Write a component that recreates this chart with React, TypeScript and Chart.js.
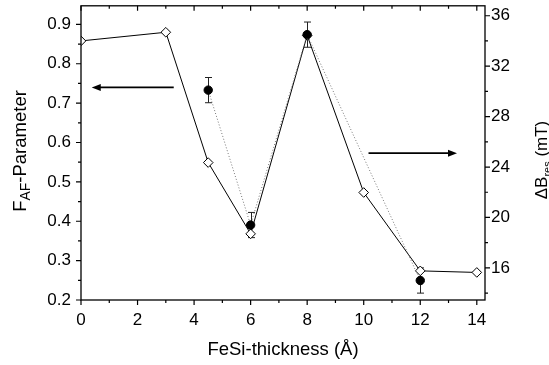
import React, { useEffect, useRef } from "react";
import { Chart, registerables } from "chart.js";

Chart.register(...registerables);

// ---- data ----
const thickness = [0, 3, 4.5, 6, 8, 10, 12, 14];
const fafParameter = [0.858, 0.88, 0.549, 0.368, 0.872, 0.473, 0.274, 0.27];

const resThickness = [4.5, 6, 8, 12];
const deltaBres = [30.1, 19.4, 34.5, 15.0];
const deltaBresErr = [1.0, 1.0, 1.0, 1.0];

const xTicks = [0, 2, 4, 6, 8, 10, 12, 14];
const xMinorTicks = [1, 3, 5, 7, 9, 11, 13];
const leftTicks = [0.2, 0.3, 0.4, 0.5, 0.6, 0.7, 0.8, 0.9];
const leftMinorTicks = [0.25, 0.35, 0.45, 0.55, 0.65, 0.75, 0.85];
const rightTicks = [16, 20, 24, 28, 32, 36];
const rightMinorTicks = [14, 18, 22, 26, 30, 34];

// arrows in (thickness, F_AF) data space
const arrowFrom = [
  [3.28, 0.74],
  [10.17, 0.573],
];
const arrowTo = [
  [0.38, 0.74],
  [13.3, 0.573],
];

const FONT = "'Liberation Sans', Arial, sans-serif";

type Part = { text: string; size: number; dy: number };

function drawRich(ctx: CanvasRenderingContext2D, parts: Part[], x: number, y: number, rotate: boolean) {
  let total = 0;
  for (const p of parts) {
    ctx.font = `${p.size}px ${FONT}`;
    total += ctx.measureText(p.text).width;
  }
  ctx.save();
  ctx.translate(x, y);
  if (rotate) ctx.rotate(-Math.PI / 2);
  ctx.textAlign = "left";
  ctx.textBaseline = "alphabetic";
  ctx.fillStyle = "#000";
  let cx = -total / 2;
  for (const p of parts) {
    ctx.font = `${p.size}px ${FONT}`;
    ctx.fillText(p.text, cx, p.dy);
    cx += ctx.measureText(p.text).width;
  }
  ctx.restore();
}

const framePlugin = {
  id: "frame",
  beforeDatasetsDraw(chart: any) {
    const ctx = chart.ctx as CanvasRenderingContext2D;
    const xs = chart.scales.x;
    const ys = chart.scales.y2;
    ctx.save();
    ctx.strokeStyle = "#222";
    ctx.lineWidth = 1;
    resThickness.forEach((t, i) => {
      const px = Math.round(xs.getPixelForValue(t)) + 0.5;
      const top = ys.getPixelForValue(deltaBres[i] + deltaBresErr[i]);
      const bot = ys.getPixelForValue(deltaBres[i] - deltaBresErr[i]);
      ctx.beginPath();
      ctx.moveTo(px, top);
      ctx.lineTo(px, bot);
      ctx.moveTo(px - 3.5, top);
      ctx.lineTo(px + 3.5, top);
      ctx.moveTo(px - 3.5, bot);
      ctx.lineTo(px + 3.5, bot);
      ctx.stroke();
    });
    ctx.restore();
  },
  afterDraw(chart: any) {
    const ctx = chart.ctx as CanvasRenderingContext2D;
    const a = chart.chartArea;
    const xs = chart.scales.x;
    const yl = chart.scales.y;
    const yr = chart.scales.y2;
    ctx.save();
    ctx.strokeStyle = "#000";
    ctx.lineWidth = 1.3;
    ctx.strokeRect(a.left, a.top, a.right - a.left, a.bottom - a.top);

    ctx.lineWidth = 1.2;
    ctx.beginPath();
    const tickX = (vals: number[], len: number) => {
      vals.forEach((v) => {
        const p = xs.getPixelForValue(v);
        ctx.moveTo(p, a.bottom);
        ctx.lineTo(p, a.bottom + len);
        ctx.moveTo(p, a.top);
        ctx.lineTo(p, a.top + len);
      });
    };
    tickX(xTicks, 5);
    tickX(xMinorTicks, 3);
    const tickL = (vals: number[], len: number) => {
      vals.forEach((v) => {
        const p = yl.getPixelForValue(v);
        ctx.moveTo(a.left, p);
        ctx.lineTo(a.left - len, p);
      });
    };
    tickL(leftTicks, 5);
    tickL(leftMinorTicks, 3);
    const tickR = (vals: number[], len: number) => {
      vals.forEach((v) => {
        const p = yr.getPixelForValue(v);
        ctx.moveTo(a.right, p);
        ctx.lineTo(a.right + len, p);
      });
    };
    tickR(rightTicks, 5);
    tickR(rightMinorTicks, 3);
    ctx.stroke();

    // arrows
    ctx.lineWidth = 1.6;
    ctx.fillStyle = "#000";
    arrowFrom.forEach((f, i) => {
      const x1 = xs.getPixelForValue(f[0]);
      const y1 = yl.getPixelForValue(f[1]);
      const x2 = xs.getPixelForValue(arrowTo[i][0]);
      const y2 = yl.getPixelForValue(arrowTo[i][1]);
      const dir = Math.sign(x2 - x1);
      ctx.beginPath();
      ctx.moveTo(x1, y1);
      ctx.lineTo(x2 - dir * 8, y2);
      ctx.stroke();
      ctx.beginPath();
      ctx.moveTo(x2, y2);
      ctx.lineTo(x2 - dir * 9, y2 - 3.5);
      ctx.lineTo(x2 - dir * 9, y2 + 3.5);
      ctx.closePath();
      ctx.fill();
    });
    ctx.restore();

    // titles
    drawRich(ctx, [{ text: "FeSi-thickness (Å)", size: 18.5, dy: 0 }], (a.left + a.right) / 2, 355, false);
    drawRich(
      ctx,
      [
        { text: "F", size: 18.5, dy: 0 },
        { text: "AF", size: 14, dy: 4 },
        { text: "-Parameter", size: 18.5, dy: 0 },
      ],
      26,
      151,
      true
    );
    drawRich(
      ctx,
      [
        { text: "ΔB", size: 17, dy: 0 },
        { text: "res", size: 11, dy: 4 },
        { text: " (mT)", size: 17, dy: 0 },
      ],
      547,
      160,
      true
    );
  },
};

export default function App() {
  const ref = useRef<HTMLCanvasElement | null>(null);
  useEffect(() => {
    if (!ref.current) return;
    const tickFont = { family: FONT, size: 17 };
    const chart = new Chart(ref.current, {
      type: "line",
      data: {
        datasets: [
          {
            label: "ΔBres",
            yAxisID: "y2",
            data: resThickness.map((t, i) => ({ x: t, y: deltaBres[i] })),
            borderColor: "#777",
            borderWidth: 1,
            borderDash: [1, 2],
            pointStyle: "circle",
            pointRadius: 4.2,
            pointBackgroundColor: "#000",
            pointBorderColor: "#000",
            pointBorderWidth: 1,
            tension: 0,
            order: 0,
          },
          {
            label: "FAF",
            yAxisID: "y",
            data: thickness.map((t, i) => ({ x: t, y: fafParameter[i] })),
            borderColor: "#000",
            borderWidth: 1,
            pointStyle: "rectRot",
            pointRadius: 4.8,
            pointBackgroundColor: "#fff",
            pointBorderColor: "#000",
            pointBorderWidth: 1,
            tension: 0,
            order: 1,
          },
        ],
      },
      options: {
        animation: false,
        responsive: false,
        maintainAspectRatio: false,
        layout: { padding: { top: 4, left: 0, right: 0, bottom: 0 } },
        plugins: { legend: { display: false }, tooltip: { enabled: false } },
        scales: {
          x: {
            type: "linear",
            position: "bottom",
            min: 0,
            max: 14.29,
            grid: { display: false, drawTicks: false },
            border: { display: false },
            ticks: { font: tickFont, color: "#000", padding: 10, maxRotation: 0, callback: (v: any) => String(v) },
            afterBuildTicks: (s: any) => {
              s.ticks = xTicks.map((v) => ({ value: v }));
            },
            afterFit: (s: any) => {
              s.height = 65;
              s.paddingLeft = 0;
              s.paddingRight = 0;
            },
          },
          y: {
            type: "linear",
            position: "left",
            min: 0.2,
            max: 0.9472,
            grid: { display: false, drawTicks: false },
            border: { display: false },
            ticks: { font: tickFont, color: "#000", padding: 10, callback: (v: any) => Number(v).toFixed(1) },
            afterBuildTicks: (s: any) => {
              s.ticks = leftTicks.map((v) => ({ value: v }));
            },
            afterFit: (s: any) => {
              s.width = 81;
              s.paddingTop = 0;
              s.paddingBottom = 0;
            },
          },
          y2: {
            type: "linear",
            position: "right",
            min: 13.454,
            max: 36.788,
            grid: { display: false, drawTicks: false },
            border: { display: false },
            ticks: { font: tickFont, color: "#000", padding: 6, callback: (v: any) => String(v) },
            afterBuildTicks: (s: any) => {
              s.ticks = rightTicks.map((v) => ({ value: v }));
            },
            afterFit: (s: any) => {
              s.width = 64;
              s.paddingTop = 0;
              s.paddingBottom = 0;
            },
          },
        },
      },
      plugins: [framePlugin],
    });
    return () => chart.destroy();
  }, []);
  return (
    <div style={{ position: "absolute", left: 0, top: 0, width: 549, height: 365, background: "#fff" }}>
      <canvas ref={ref} width={549} height={365} style={{ display: "block", width: 549, height: 365 }} />
    </div>
  );
}
